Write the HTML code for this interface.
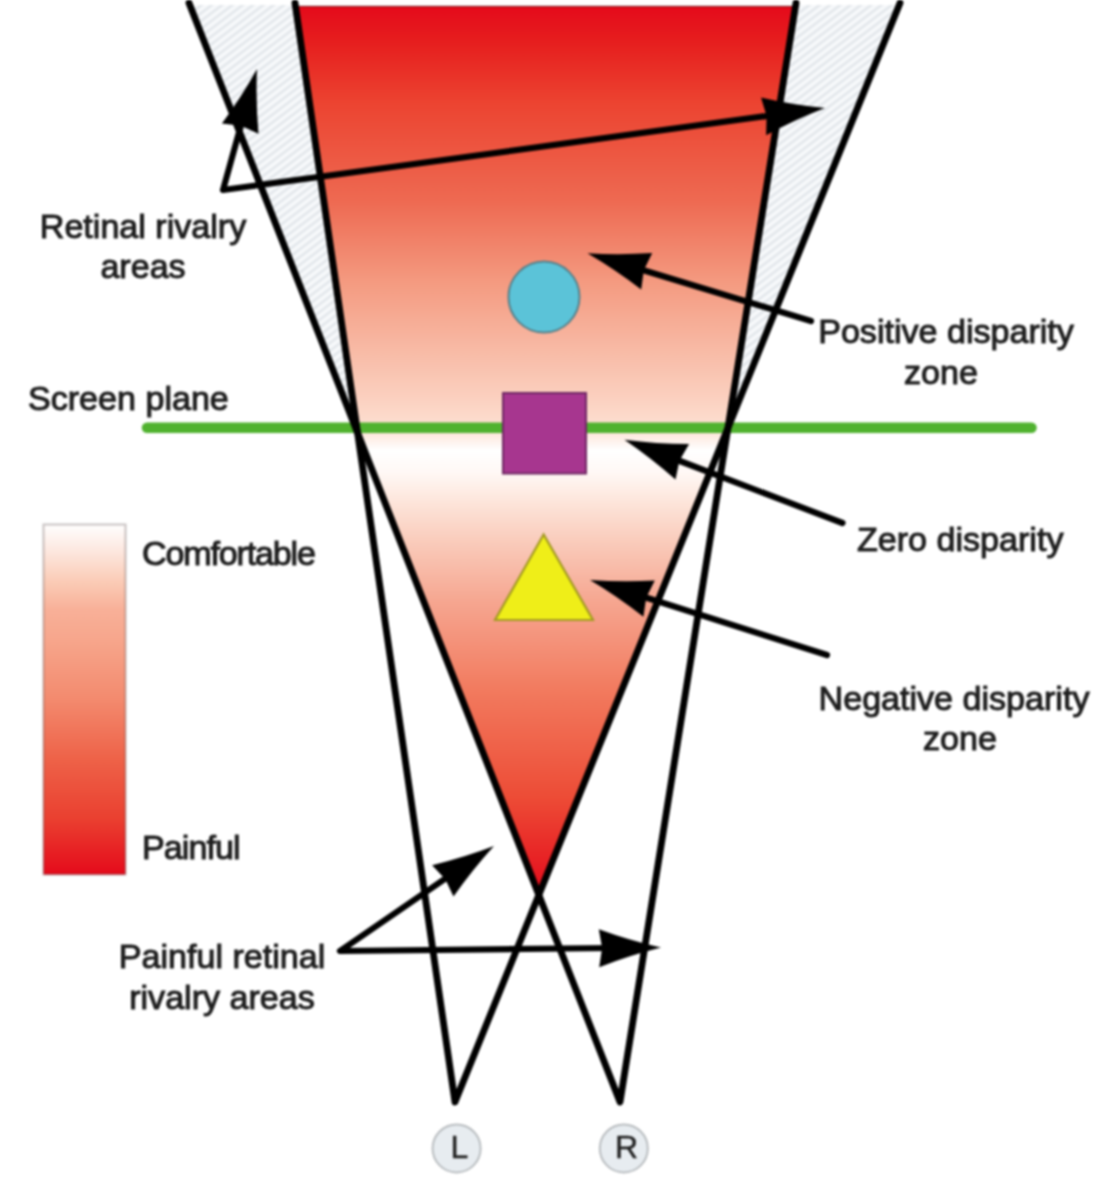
<!DOCTYPE html>
<html><head><meta charset="utf-8">
<style>
html,body{margin:0;padding:0;background:#fff;}
body{width:1120px;height:1200px;overflow:hidden;position:relative;}
svg{position:absolute;left:0;top:0;filter:blur(0.8px);}
text{font-family:"Liberation Sans",sans-serif;fill:#1e1e1e;stroke:#1e1e1e;stroke-width:1.05px;}
</style></head><body>
<svg width="1120" height="1200" viewBox="0 0 1120 1200">
<defs>
  <linearGradient id="gMain" x1="0" y1="6" x2="0" y2="895" gradientUnits="userSpaceOnUse">
    <stop offset="0" stop-color="#e50a1b"/>
    <stop offset="0.04" stop-color="#e61e1e"/>
    <stop offset="0.11" stop-color="#ec4431"/>
    <stop offset="0.22" stop-color="#ee6a52"/>
    <stop offset="0.31" stop-color="#f49a80"/>
    <stop offset="0.44" stop-color="#fbd0bf"/>
    <stop offset="0.475" stop-color="#fde0d2"/>
    <stop offset="0.5" stop-color="#ffffff"/>
    <stop offset="0.525" stop-color="#fff8f5"/>
    <stop offset="0.56" stop-color="#fde4d9"/>
    <stop offset="0.6" stop-color="#facdbd"/>
    <stop offset="0.67" stop-color="#f6a690"/>
    <stop offset="0.77" stop-color="#f27a5e"/>
    <stop offset="0.89" stop-color="#ed4c36"/>
    <stop offset="1" stop-color="#e50a1b"/>
  </linearGradient>
  <linearGradient id="gLeg" x1="0" y1="524" x2="0" y2="875" gradientUnits="userSpaceOnUse">
    <stop offset="0" stop-color="#ffffff"/>
    <stop offset="0.075" stop-color="#fde8e0"/>
    <stop offset="0.16" stop-color="#fbcdb8"/>
    <stop offset="0.245" stop-color="#f8b098"/>
    <stop offset="0.33" stop-color="#f7a68c"/>
    <stop offset="0.5" stop-color="#f38a6e"/>
    <stop offset="0.67" stop-color="#ee6248"/>
    <stop offset="0.84" stop-color="#ea4030"/>
    <stop offset="1" stop-color="#e50a1b"/>
  </linearGradient>
  <pattern id="hatch" patternUnits="userSpaceOnUse" width="7" height="6.2" patternTransform="rotate(-37)">
    <rect width="7" height="6.2" fill="#f7f9fb"/>
    <rect width="7" height="2.6" fill="#e3e7eb"/>
  </pattern>
</defs>

<!-- hatched retinal rivalry areas -->
<polygon points="189,5 295,5 358,433" fill="url(#hatch)"/>
<polygon points="796,5 900,5 728,428" fill="url(#hatch)"/>

<!-- red fill -->
<polygon points="295,6 796,6 728,428 539,895 358,433" fill="url(#gMain)"/>
<line x1="295" y1="6.3" x2="796" y2="6.3" stroke="rgba(70,30,30,0.55)" stroke-width="1.3"/>

<!-- screen plane -->
<line x1="147" y1="427.8" x2="1031.5" y2="427.8" stroke="#50b22f" stroke-width="10.5" stroke-linecap="round"/>

<!-- shapes -->
<circle cx="544" cy="297" r="35.5" fill="#5bc3d8" stroke="#56808a" stroke-width="2"/>
<rect x="503" y="393" width="83" height="80.5" fill="#a7368f" stroke="#6f2863" stroke-width="2"/>
<polygon points="543.6,534.5 495,620 593,620" fill="#efee18" stroke="#a39a22" stroke-width="2.2"/>

<!-- main lines -->
<g stroke="#000" stroke-width="6.8" stroke-linecap="round" stroke-linejoin="round" fill="none">
  <polyline points="295,3 455,1102 900,3"/>
  <polyline points="189,3 620,1102 796,3"/>
</g>

<!-- legend -->
<rect x="43.5" y="524.5" width="82" height="350" fill="url(#gLeg)" stroke="rgba(40,20,20,0.24)" stroke-width="2.2"/>

<!-- arrows -->
<g stroke="#000" stroke-width="6.2" fill="none" stroke-linejoin="round" stroke-linecap="round">
  <polyline points="243,118 223,190 774,115"/>
  <line x1="811" y1="321" x2="636" y2="268"/>
  <line x1="842.5" y1="523" x2="672" y2="458"/>
  <line x1="827" y1="655" x2="638" y2="595"/>
  <polyline points="452,874 340,951 612,948"/>
</g>
<g fill="#000">
  <path d="M257.0,69.0 Q255.6,100.8 258.5,133.8 L241.1,125.7 L221.9,123.5 Q241.6,96.9 257.0,69.0Z"/>
  <path d="M825.0,108.0 Q795.3,119.4 766.1,135.2 L766.6,115.9 L761.0,97.5 Q793.3,105.0 825.0,108.0Z"/>
  <path d="M587.4,253.2 Q619.2,255.2 652.2,253.0 L643.8,270.3 L641.2,289.4 Q614.9,269.2 587.4,253.2Z"/>
  <path d="M624.4,439.7 Q656.0,443.9 689.1,444.1 L679.4,460.7 L675.5,479.6 Q650.8,457.6 624.4,439.7Z"/>
  <path d="M590.0,580.0 Q621.8,582.4 654.8,580.6 L646.2,597.8 L643.4,616.8 Q617.4,596.3 590.0,580.0Z"/>
  <path d="M494.0,846.0 Q472.5,869.5 453.5,896.6 L445.3,879.2 L432.1,865.2 Q464.3,857.4 494.0,846.0Z"/>
  <path d="M661.0,947.5 Q630.1,955.1 599.2,967.2 L602.1,948.1 L598.8,929.2 Q629.9,940.5 661.0,947.5Z"/>
</g>

<!-- eye circles -->
<circle cx="456.6" cy="1148.4" r="24" fill="#e7ecf0" stroke="#b9bdc0" stroke-width="2"/>
<circle cx="623.8" cy="1148.4" r="24" fill="#e7ecf0" stroke="#b9bdc0" stroke-width="2"/>
<text x="459.5" y="1157.5" font-size="32" text-anchor="middle" style="stroke-width:0.4px">L</text>
<text x="626.5" y="1157.5" font-size="32" text-anchor="middle" style="stroke-width:0.4px">R</text>

<!-- labels -->
<g font-size="34.1" class="lbl">
  <text x="143" y="238" text-anchor="middle">Retinal rivalry</text>
  <text x="143" y="278" text-anchor="middle">areas</text>
  <text x="28" y="410">Screen plane</text>
  <text x="946" y="343" text-anchor="middle">Positive disparity</text>
  <text x="941" y="384" text-anchor="middle">zone</text>
  <text x="857" y="551">Zero disparity</text>
  <text x="142" y="565" letter-spacing="-1.17">Comfortable</text>
  <text x="142" y="859" letter-spacing="-0.95">Painful</text>
  <text x="954" y="710" text-anchor="middle">Negative disparity</text>
  <text x="960" y="750" text-anchor="middle">zone</text>
  <text x="222" y="967.5" text-anchor="middle">Painful retinal</text>
  <text x="222" y="1009" text-anchor="middle">rivalry areas</text>
</g>
</svg>
</body></html>
